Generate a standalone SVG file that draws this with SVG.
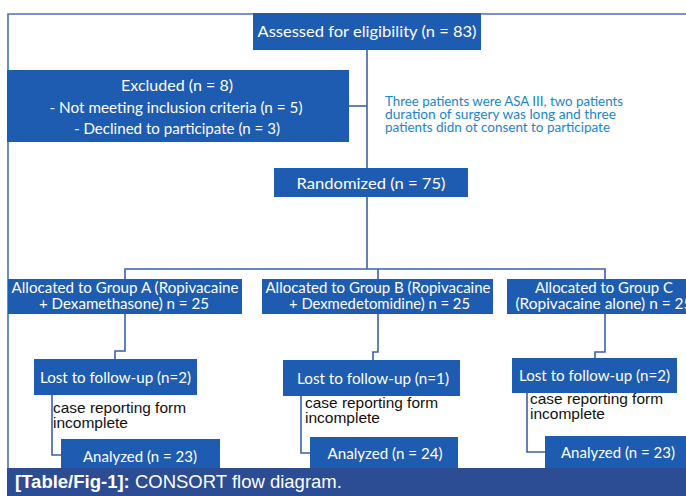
<svg xmlns="http://www.w3.org/2000/svg" width="686" height="496" viewBox="0 0 686 496">
<style>
.box{fill:#1e5cb1}
.t{font-family:Lato,"Open Sans","Noto Sans",sans-serif;fill:#ffffff;text-anchor:middle}
.c{fill:none;stroke:#3d5fae;stroke-width:1.6}
.frame{fill:none;stroke:#4f6fba;stroke-width:1.6}
.note{font-family:Lato,"Open Sans",sans-serif;fill:#1a85cf;font-size:12.5px}
.crf{font-family:"Liberation Sans",Arial,sans-serif;fill:#111111;font-size:14.5px}
.cap{font-family:"Liberation Sans",Arial,sans-serif;fill:#ffffff;font-size:18.5px}
</style>
<rect width="686" height="496" fill="#ffffff"/>
<path class="frame" d="M8,468 V14 H686"/>
<g id="connectors">
<path class="c" d="M367,50 V168"/>
<path class="c" d="M349,106 H367"/>
<path class="c" d="M367,197 V269"/>
<path class="c" d="M125,279 V269 H605 V279"/>
<path class="c" d="M378,269 V279"/>
<path class="c" d="M125,314 V351 H115 V359"/>
<path class="c" d="M378,314 V352 H373 V360"/>
<path class="c" d="M605,314 V352 H595 V358"/>
<path class="c" d="M52,395 V455 H61"/>
<path class="c" d="M301,396 V453 H310"/>
<path class="c" d="M527,393 V452 H545"/>
</g>
<g id="assessed">
<rect class="box" x="253" y="13" width="228" height="37"/>
<text class="t" x="367" y="37" font-size="16" textLength="219" lengthAdjust="spacingAndGlyphs">Assessed for eligibility (n = 83)</text>
</g>
<g id="excluded">
<rect class="box" x="7" y="70" width="342" height="72"/>
<text class="t" x="177" y="91" font-size="16" textLength="112" lengthAdjust="spacingAndGlyphs">Excluded (n = 8)</text>
<text class="t" x="176" y="113" font-size="16" textLength="253" lengthAdjust="spacingAndGlyphs">- Not meeting inclusion criteria (n = 5)</text>
<text class="t" x="177" y="134" font-size="16" textLength="206" lengthAdjust="spacingAndGlyphs">- Declined to participate (n = 3)</text>
</g>
<g id="note">
<text class="note"><tspan x="385" y="105.5" textLength="238" lengthAdjust="spacingAndGlyphs">Three patients were ASA III, two patients</tspan><tspan x="385" y="118.5" textLength="231" lengthAdjust="spacingAndGlyphs">duration of surgery was long and three</tspan><tspan x="385" y="131.5" textLength="225" lengthAdjust="spacingAndGlyphs">patients didn ot consent to participate</tspan></text>
</g>
<g id="randomized">
<rect class="box" x="274" y="168" width="194" height="29"/>
<text class="t" x="371" y="189" font-size="16" textLength="149" lengthAdjust="spacingAndGlyphs">Randomized (n = 75)</text>
</g>
<g id="groupA">
<rect class="box" x="8" y="279" width="234" height="35"/>
<text class="t" x="125" y="292.5" font-size="15" textLength="227" lengthAdjust="spacingAndGlyphs">Allocated to Group A (Ropivacaine</text>
<text class="t" x="124" y="309" font-size="15" textLength="170" lengthAdjust="spacingAndGlyphs">+ Dexamethasone) n = 25</text>
</g>
<g id="groupB">
<rect class="box" x="262" y="279" width="231" height="35"/>
<text class="t" x="378" y="292.5" font-size="15" textLength="225" lengthAdjust="spacingAndGlyphs">Allocated to Group B (Ropivacaine</text>
<text class="t" x="379.5" y="309" font-size="15" textLength="181" lengthAdjust="spacingAndGlyphs">+ Dexmedetomidine) n = 25</text>
</g>
<g id="groupC">
<rect class="box" x="507" y="279" width="200" height="35"/>
<text class="t" x="604" y="292.5" font-size="15" textLength="138" lengthAdjust="spacingAndGlyphs">Allocated to Group C</text>
<text class="t" x="604" y="309" font-size="15" textLength="177" lengthAdjust="spacingAndGlyphs">(Ropivacaine alone) n = 25</text>
</g>
<g id="lostA">
<rect class="box" x="34" y="359" width="163" height="36"/>
<text class="t" x="115.5" y="383" font-size="15" textLength="151" lengthAdjust="spacingAndGlyphs">Lost to follow-up (n=2)</text>
</g>
<g id="lostB">
<rect class="box" x="283" y="360" width="177" height="36"/>
<text class="t" x="373" y="384" font-size="15" textLength="152" lengthAdjust="spacingAndGlyphs">Lost to follow-up (n=1)</text>
</g>
<g id="lostC">
<rect class="box" x="512" y="358" width="165" height="35"/>
<text class="t" x="594.5" y="381" font-size="15" textLength="151" lengthAdjust="spacingAndGlyphs">Lost to follow-up (n=2)</text>
</g>
<g id="crfA">
<text class="crf" x="53" y="413" textLength="133" lengthAdjust="spacingAndGlyphs">case reporting form</text>
<text class="crf" x="53" y="428" textLength="75" lengthAdjust="spacingAndGlyphs">incomplete</text>
</g>
<g id="crfB">
<text class="crf" x="305" y="408" textLength="133" lengthAdjust="spacingAndGlyphs">case reporting form</text>
<text class="crf" x="305" y="423" textLength="75" lengthAdjust="spacingAndGlyphs">incomplete</text>
</g>
<g id="crfC">
<text class="crf" x="530" y="404" textLength="133" lengthAdjust="spacingAndGlyphs">case reporting form</text>
<text class="crf" x="530" y="418.5" textLength="75" lengthAdjust="spacingAndGlyphs">incomplete</text>
</g>
<g id="analyzedA">
<rect class="box" x="61" y="439" width="159" height="29"/>
<text class="t" x="140" y="462" font-size="15" textLength="114" lengthAdjust="spacingAndGlyphs">Analyzed (n = 23)</text>
</g>
<g id="analyzedB">
<rect class="box" x="310" y="437" width="148" height="31"/>
<text class="t" x="385" y="459" font-size="15" textLength="115" lengthAdjust="spacingAndGlyphs">Analyzed (n = 24)</text>
</g>
<g id="analyzedC">
<rect class="box" x="545" y="436" width="141" height="32"/>
<text class="t" x="618" y="458" font-size="15" textLength="114" lengthAdjust="spacingAndGlyphs">Analyzed (n = 23)</text>
</g>
<g id="caption">
<rect x="7" y="468" width="679" height="28" fill="#2c4c93"/>
<text class="cap" x="15" y="488"><tspan font-weight="bold">[Table/Fig-1]:</tspan> CONSORT flow diagram.</text>
</g>
</svg>
